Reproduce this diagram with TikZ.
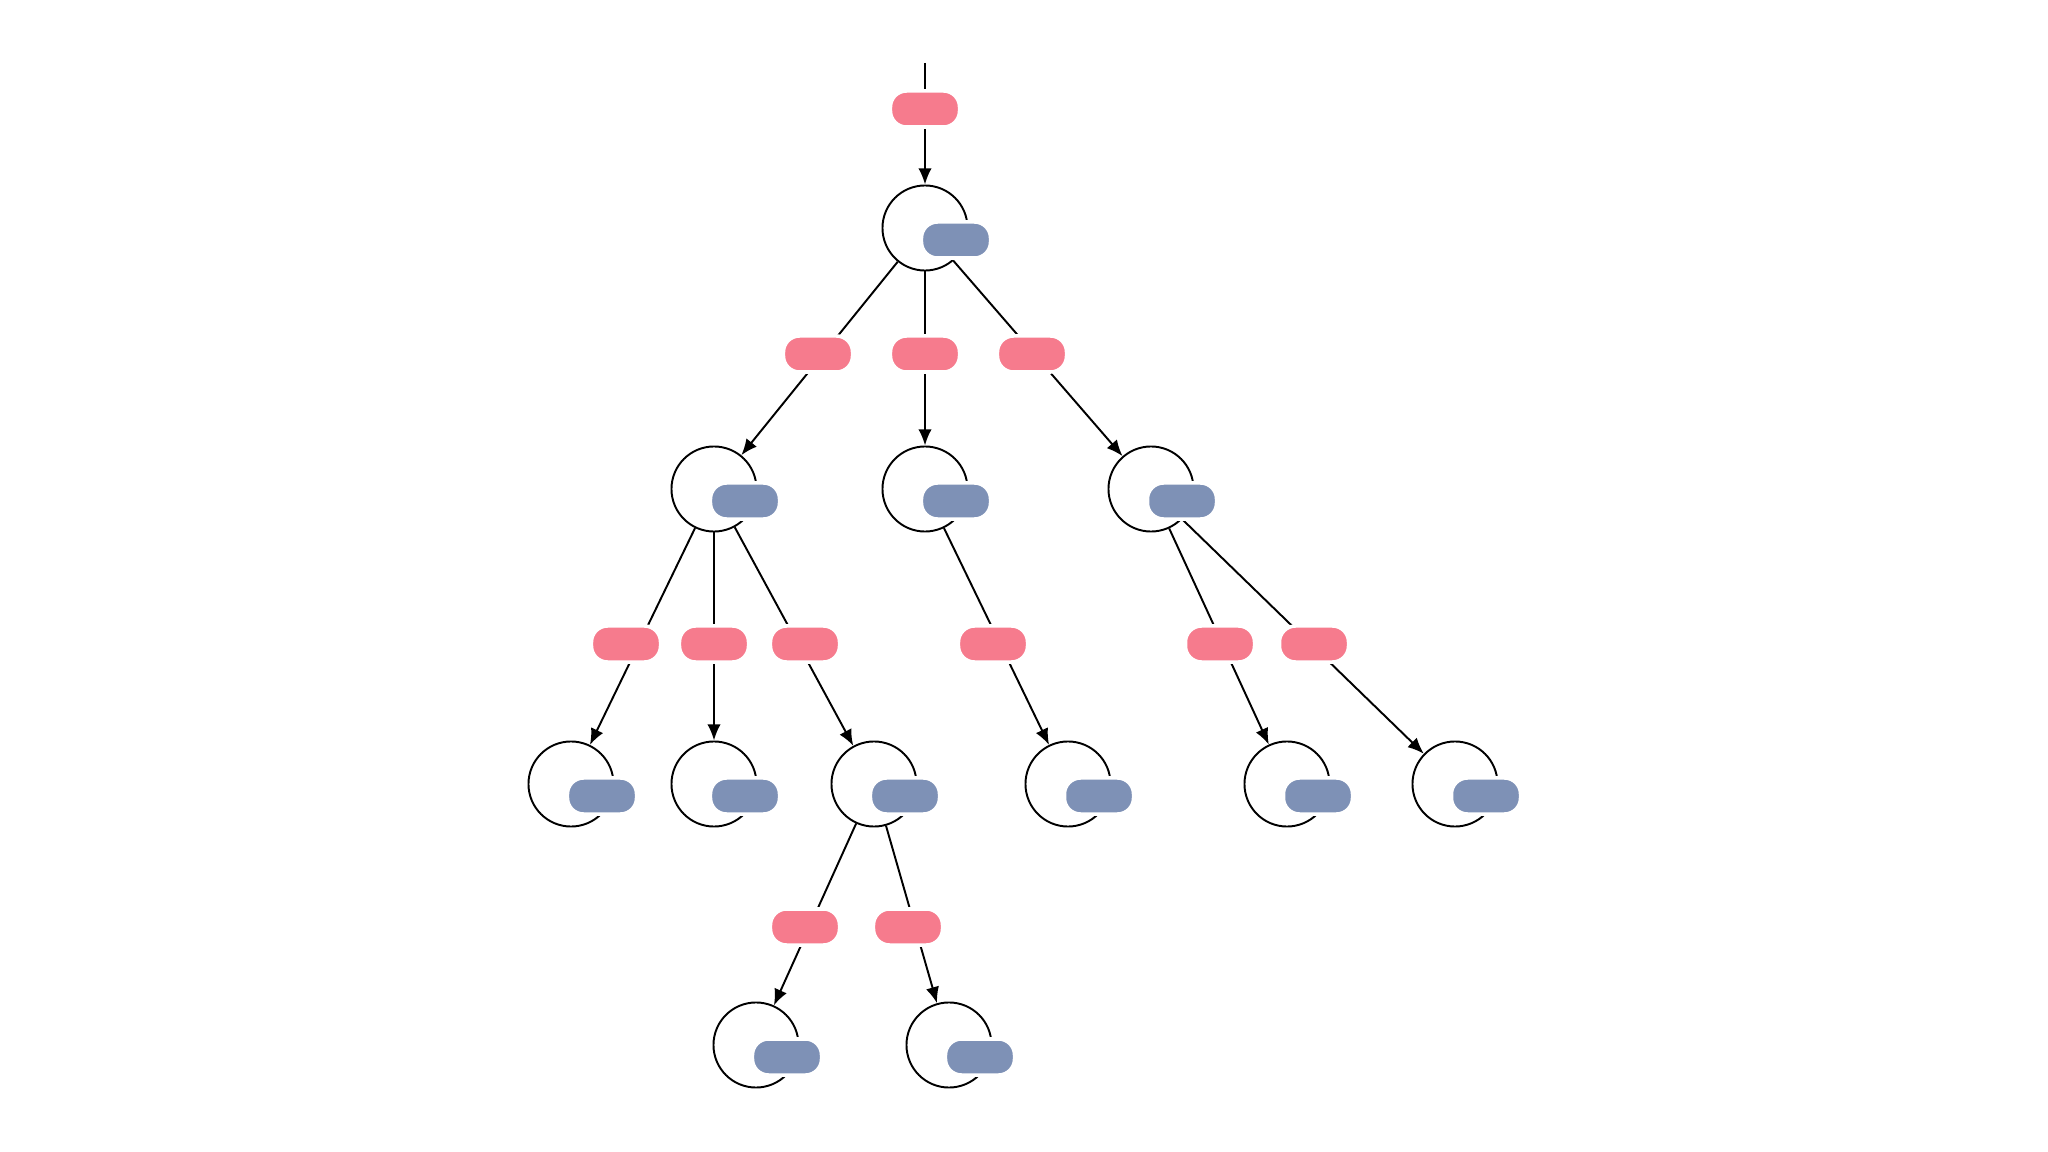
\documentclass[tikz,border=0pt]{standalone}
\usepackage{tikz}
\usetikzlibrary{arrows.meta,positioning}
\definecolor{tokpink}{HTML}{F67B8D}
\definecolor{tokblue}{HTML}{7E91B6}
\tikzset{
  state/.style={circle,draw,line width=0.55pt,minimum size=0.85cm,inner sep=0pt},
  pinkpill/.style={rectangle,rounded corners=1.6mm,fill=tokpink,draw=white,line width=1pt,minimum width=0.69cm,minimum height=0.36cm,inner sep=0pt},
  bluepill/.style={pinkpill,fill=tokblue},
  link/.style={line width=0.55pt},
  flow/.style={link,-{Latex[length=4.6pt,width=3.8pt]}}
}

\begin{document}
\begin{tikzpicture}[x=0.01cm,y=-0.01cm]
  \useasboundingbox (0,0) rectangle (2048,1152);
  % states
  \foreach \n/\x/\y in {c0/925/228, c1a/714/489, c1b/925/489, c1c/1151/489,
      c2a/571/784, c2b/714/784, c2c/874/784, c2d/1068/784, c2e/1287/784,
      c2f/1455/784, c3a/756/1045, c3b/949/1045}
    \node[state] (\n) at (\x,\y) {};
  % transitions, under the tags
  \coordinate (top) at (925,63);
  \foreach \a/\b in {top/c0, c0/c1a, c0/c1b, c0/c1c, c1a/c2a, c1a/c2b, c1a/c2c,
      c1b/c2d, c1c/c2e, c1c/c2f, c2c/c3a, c2c/c3b}
    \draw[flow] (\a) -- (\b);
  % tags
  \foreach \n/\x/\y in {p0/925/109, p1a/818/354, p1b/925/354, p1c/1032/354,
      p2a/626/644, p2b/714/644, p2c/805/644, p2d/993/644, p2e/1220/644,
      p2f/1314/644, p3a/805/927, p3b/908/927}
    \node[pinkpill] (\n) at (\x,\y) {};
  \foreach \n in {c0, c1a, c1b, c1c, c2a, c2b, c2c, c2d, c2e, c2f, c3a, c3b}
    \node[bluepill] (b\n) at ([shift={(31,12)}]\n.center) {};
\end{tikzpicture}
\end{document}
